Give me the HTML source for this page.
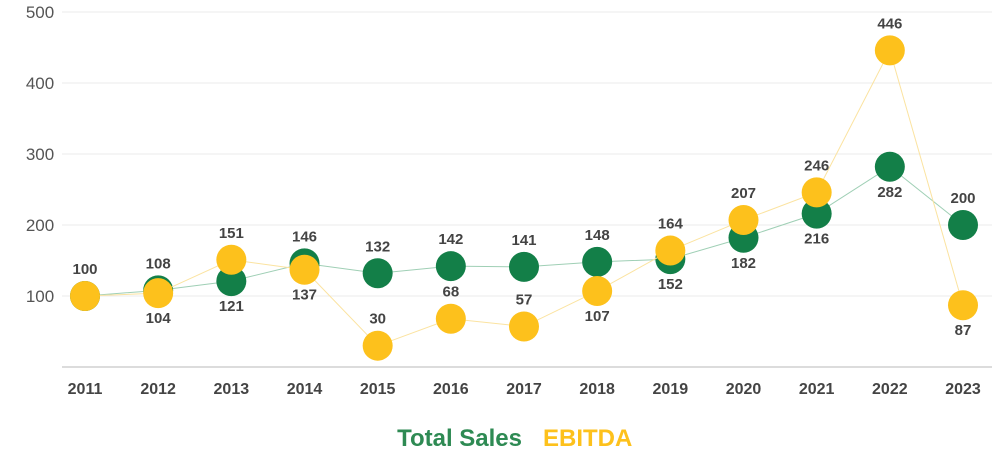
<!DOCTYPE html>
<html><head><meta charset="utf-8"><style>
body{margin:0;background:#fff;width:1000px;height:456px;overflow:hidden;font-family:"Liberation Sans",sans-serif}
</style></head><body>
<svg id="chart" width="1000" height="456" xmlns="http://www.w3.org/2000/svg"></svg>
<script>
const years=["2011","2012","2013","2014","2015","2016","2017","2018","2019","2020","2021","2022","2023"];
const sales=[100,108,121,146,132,142,141,148,152,182,216,282,200];
const ebitda=[100,104,151,137,30,68,57,107,164,207,246,446,87];
const yTicks=[100,200,300,400,500];
const salesLabelAbove=[true,true,false,true,true,true,true,true,false,false,false,false,true];
const ebitdaLabelAbove=[null,false,true,false,true,true,true,false,true,true,true,true,false];
const svg=document.getElementById('chart');
const NS='http://www.w3.org/2000/svg';
const x=i=>85+i*(963-85)/(years.length-1);
const y=v=>367-v*0.71;
function mk(t,a){const e=document.createElementNS(NS,t);for(const k in a)e.setAttribute(k,a[k]);svg.appendChild(e);return e;}
yTicks.forEach(t=>{
 const g=mk('line',{x1:62,x2:992,y1:y(t),y2:y(t),stroke:'#ebebeb','stroke-width':1});
 
 
 const l=mk('text',{x:40,y:y(t)+6,'text-anchor':'middle','font-size':17,fill:'#555'});l.textContent=t;
 
 
});
const ax=mk('line',{x1:62,x2:992,y1:367,y2:367,stroke:'#d0d0d0','stroke-width':1.5});


years.forEach((yr,i)=>{
 const l=mk('text',{x:x(i),y:394,'text-anchor':'middle','font-size':16,'font-weight':'bold',fill:'#444'});l.textContent=yr;
 
 
});
function series(vals,color,lineColor,above,name){
 const p=mk('polyline',{points:vals.map((v,i)=>x(i)+','+y(v)).join(' '),fill:'none',stroke:lineColor,'stroke-width':1});
 
 
 vals.forEach((v,i)=>{
  const c=mk('circle',{cx:x(i),cy:y(v),r:15,fill:color});
  
  
 });
 return ()=>vals.forEach((v,i)=>{
  if(above[i]===null)return;
  const ty=above[i]?y(v)-22:y(v)+30;
  const t=mk('text',{x:x(i),y:ty,'text-anchor':'middle','font-size':15,'font-weight':'bold',fill:'#444'});t.textContent=v;
  
  
 });
}
const s1=series(sales,'#137f48','#9fcfb5',salesLabelAbove,'total-sales');
const s2=series(ebitda,'#fdc11c','#fbe3a0',ebitdaLabelAbove,'ebitda');
s1();s2();
const lg1=mk('text',{x:522,y:446,'text-anchor':'end','font-size':24,'font-weight':'bold',fill:'#2e8a53'});lg1.textContent='Total Sales';


const lg2=mk('text',{x:543,y:446,'font-size':24,'font-weight':'bold',fill:'#fdc11c'});lg2.textContent='EBITDA';


</script>
</body></html>
